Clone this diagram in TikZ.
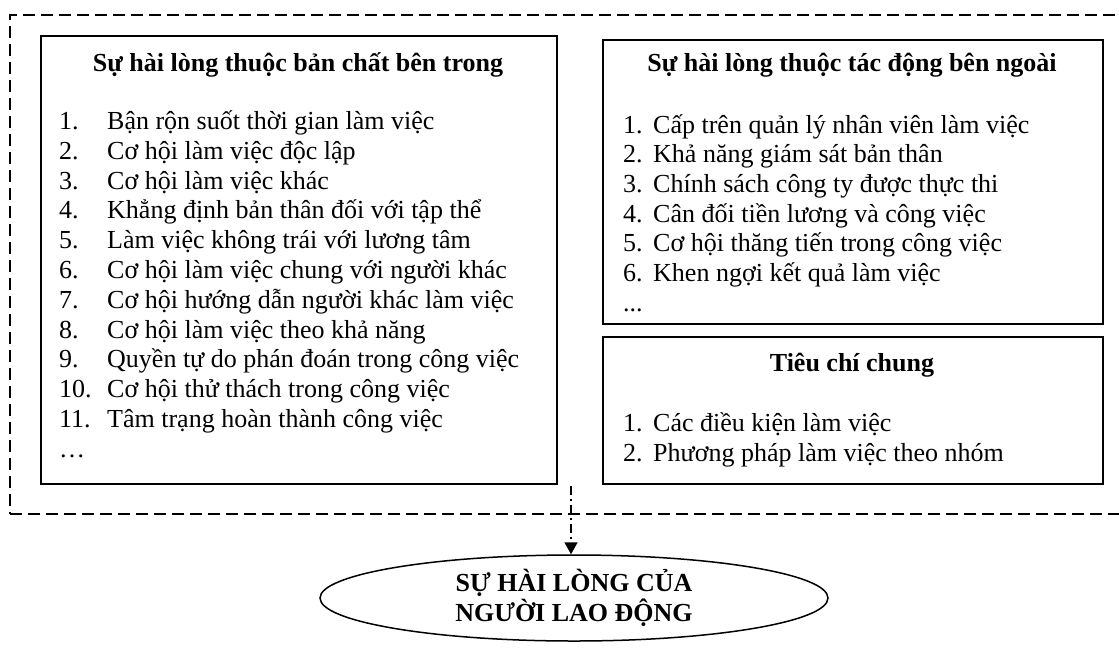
\documentclass[tikz,border=0pt]{standalone}
\usepackage{fontspec}
\setmainfont{Liberation Serif}
\usetikzlibrary{shapes.geometric,arrows.meta}
\begin{document}
\begin{tikzpicture}[x=1pt,y=-1pt,
  box/.style={draw,line width=1.6pt,rectangle,inner sep=0pt,anchor=north west},
  txt/.style={anchor=base west,inner sep=0pt,font=\fontsize{26}{30}\selectfont},
  ttl/.style={anchor=base,inner sep=0pt,font=\fontsize{26}{30}\selectfont\bfseries},
  frame/.style={draw,rectangle,line width=1.6pt,dash pattern=on 12pt off 6pt,inner sep=0pt},
  flow/.style={line width=1.5pt,dash pattern=on 9pt off 4pt on 2pt off 4pt,-{Triangle[length=12pt,width=13pt]}},
  goalst/.style={draw,ellipse,line width=1.5pt,minimum width=508pt,minimum height=86pt,inner sep=0pt,align=center,font=\fontsize{26}{30}\selectfont\bfseries}]
\useasboundingbox (0,0) rectangle (1119,649);
% outer dashed group (right side runs past the page edge)
\node[frame,minimum width=1140pt,minimum height=499pt] (group) at (580,264.5) {};
% boxes
\node[box,minimum width=516pt,minimum height=448pt] (inner) at (40,35) {};
\node[box,minimum width=500pt,minimum height=284pt] (outer) at (602,39) {};
\node[box,minimum width=500pt,minimum height=147pt] (common) at (602,336) {};
% left box
\node[ttl] (innert) at (298,71) {Sự hài lòng thuộc bản chất bên trong};
\foreach \n/\t [count=\i from 0] in {1./Bận rộn suốt thời gian làm việc,
  2./Cơ hội làm việc độc lập,
  3./Cơ hội làm việc khác,
  4./Khẳng định bản thân đối với tập thể,
  5./Làm việc không trái với lương tâm,
  6./Cơ hội làm việc chung với người khác,
  7./Cơ hội hướng dẫn người khác làm việc,
  8./Cơ hội làm việc theo khả năng,
  9./Quyền tự do phán đoán trong công việc,
  10./Cơ hội thử thách trong công việc,
  11./Tâm trạng hoàn thành công việc}{
  \node[txt] (innern\i) at (59,129.5+29.8*\i) {\n};
  \node[txt] (inneri\i) at (107,129.5+29.8*\i) {\t};
}
\node[txt] (innerdots) at (59,129.5+29.8*11) {…};
% right top box
\node[ttl] (outert) at (852,71) {Sự hài lòng thuộc tác động bên ngoài};
\foreach \n/\t [count=\i from 0] in {1./Cấp trên quản lý nhân viên làm việc,
  2./Khả năng giám sát bản thân,
  3./Chính sách công ty được thực thi,
  4./Cân đối tiền lương và công việc,
  5./Cơ hội thăng tiến trong công việc,
  6./Khen ngợi kết quả làm việc}{
  \node[txt] (outern\i) at (623,133+29.7*\i) {\n};
  \node[txt] (outeri\i) at (653,133+29.7*\i) {\t};
}
\node[txt] (outerdots) at (623,133+29.7*6) {...};
% right bottom box
\node[ttl] (commont) at (852,371) {Tiêu chí chung};
\node[txt] (commonn0) at (623,431) {1.};
\node[txt] (commoni0) at (653,431) {Các điều kiện làm việc};
\node[txt] (commonn1) at (623,461) {2.};
\node[txt] (commoni1) at (653,461) {Phương pháp làm việc theo nhóm};
% goal
\node[goalst] (goal) at (574,598) {SỰ HÀI LÒNG CỦA\\NGƯỜI LAO ĐỘNG};
\coordinate (src) at (571,486);
\draw[flow] (src) -- (src |- goal.north);
\end{tikzpicture}
\end{document}
